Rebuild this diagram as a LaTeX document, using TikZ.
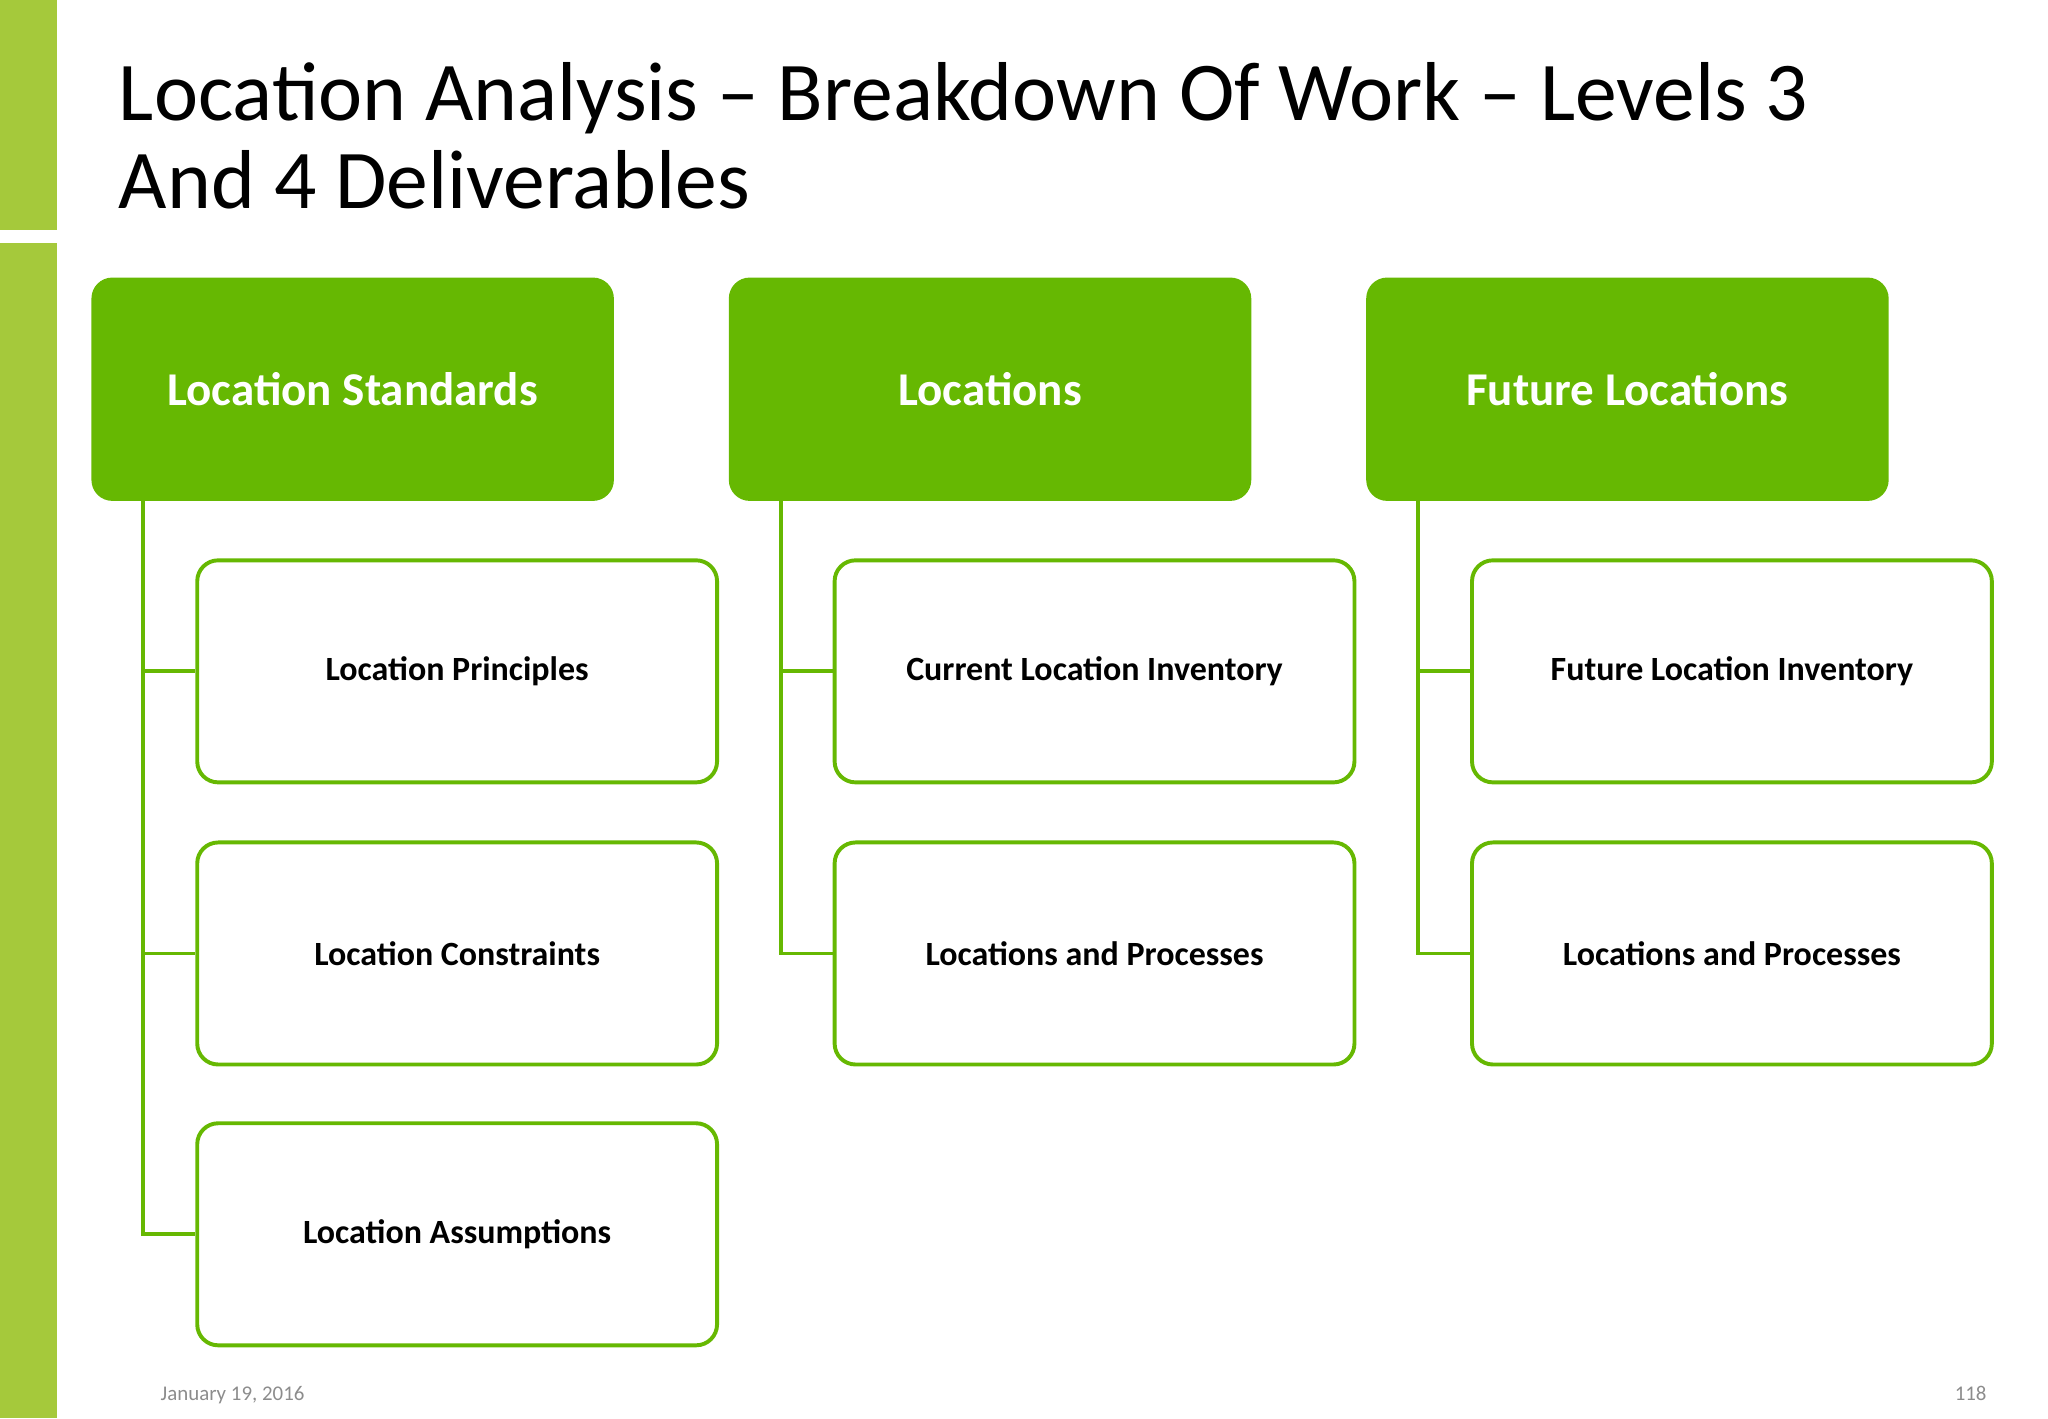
\documentclass[tikz,border=0pt]{standalone}
\usepackage{fontspec}
\setmainfont{Carlito}
\usepackage{xcolor}
\usetikzlibrary{positioning}
\definecolor{barGreen}{HTML}{A5C93B}
\definecolor{headGreen}{HTML}{66B802}
\definecolor{footGray}{HTML}{8C8C8C}

\tikzset{
 head/.style={rectangle,rounded corners=8pt,fill=headGreen,text=white,
  minimum width=200pt,minimum height=85.5pt,font=\bfseries\fontsize{18}{20}\selectfont},
 item/.style={rectangle,rounded corners=8pt,draw=headGreen,line width=1.5pt,fill=white,
  minimum width=199pt,minimum height=85pt,font=\bfseries\fontsize{13}{15}\selectfont},
 tree/.style={draw=headGreen,line width=1.5pt}
}

\begin{document}
\begin{tikzpicture}[x=0.5pt,y=-0.5pt]
 \useasboundingbox (0,0) rectangle (1568,1086);
 \fill[barGreen] (0,0) rectangle (44,176);
 \fill[barGreen] (0,186) rectangle (44,1086);

 \node[anchor=base west,font=\fontsize{32}{34}\selectfont,align=left] (title) at (84,92)
  {Location Analysis -- Breakdown Of Work -- Levels 3};
 \node[anchor=base west,font=\fontsize{32}{34}\selectfont] (title2) at (84,160) {And 4 Deliverables};

 \node[head] (std) at (270,298) {Location Standards};
 \node[head] (loc) at (758,298) {Locations};
 \node[head] (fut) at (1246,298) {Future Locations};

 \node[item] (std1) at (350,514) {Location Principles};
 \node[item] (std2) at (350,730) {Location Constraints};
 \node[item] (std3) at (350,945) {Location Assumptions};
 \node[item] (loc1) at (838,514) {Current Location Inventory};
 \node[item] (loc2) at (838,730) {Locations and Processes};
 \node[item] (fut1) at (1326,514) {Future Location Inventory};
 \node[item] (fut2) at (1326,730) {Locations and Processes};

 \draw[tree] (std.south west) ++(40,0) |- (std3.west);
 \draw[tree] (std.south west) ++(40,0) |- (std1.west);
 \draw[tree] (std.south west) ++(40,0) |- (std2.west);
 \draw[tree] (loc.south west) ++(40,0) |- (loc2.west);
 \draw[tree] (loc.south west) ++(40,0) |- (loc1.west);
 \draw[tree] (fut.south west) ++(40,0) |- (fut2.west);
 \draw[tree] (fut.south west) ++(40,0) |- (fut1.west);

 \node[anchor=base west,text=footGray,font=\fontsize{8}{9}\selectfont] (date) at (116,1072) {January 19, 2016};
 \node[anchor=base east,text=footGray,font=\fontsize{8}{9}\selectfont] (page) at (1528,1072) {118};
\end{tikzpicture}
\end{document}
